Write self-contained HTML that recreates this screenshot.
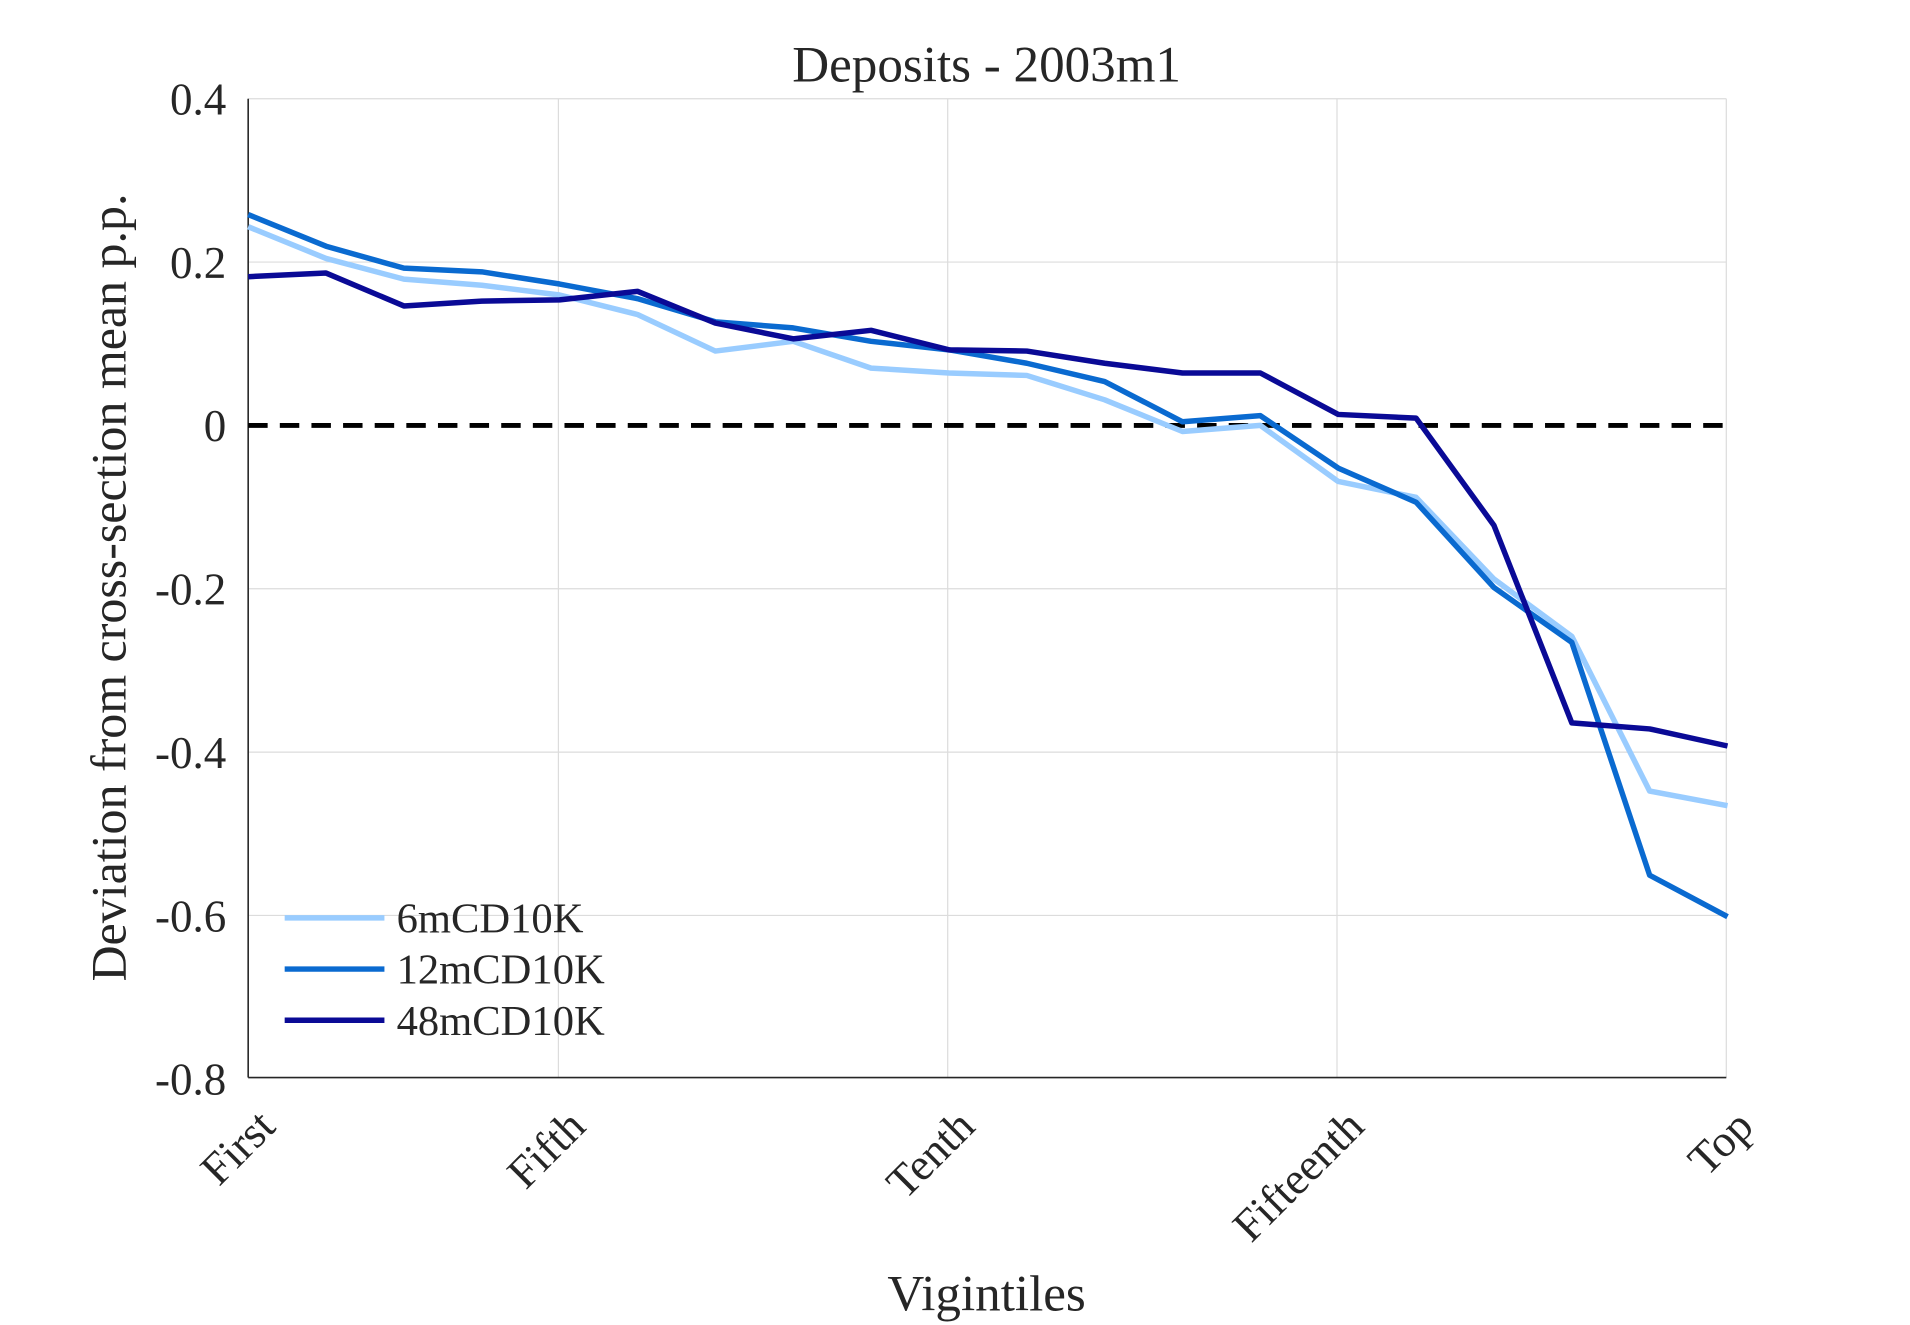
<!DOCTYPE html>
<html><head><style>body{margin:0;background:#fff}svg{display:block}</style></head><body>
<svg width="1910" height="1325" viewBox="0 0 1570 1087" preserveAspectRatio="none" xmlns="http://www.w3.org/2000/svg" font-family="Liberation Serif, serif" fill="#262626">
<g stroke="#dcdcdc" stroke-width="1">
<line x1="459" y1="81" x2="459" y2="884"/><line x1="779" y1="81" x2="779" y2="884"/><line x1="1099" y1="81" x2="1099" y2="884"/><line x1="1419" y1="81" x2="1419" y2="884"/>
<line x1="204" y1="81" x2="1419" y2="81"/><line x1="204" y1="215" x2="1419" y2="215"/><line x1="204" y1="483" x2="1419" y2="483"/><line x1="204" y1="617" x2="1419" y2="617"/><line x1="204" y1="751" x2="1419" y2="751"/>
</g>
<g stroke="#262626" stroke-width="1.3"><line x1="204" y1="81" x2="204" y2="884"/><line x1="204" y1="884" x2="1419" y2="884"/></g>
<line x1="204" y1="349" x2="1419" y2="349" stroke="#000" stroke-width="4" stroke-dasharray="16,10"/>
<g fill="none" stroke-width="4.5" stroke-linejoin="round">
<polyline stroke="#99ccff" points="204,186 268,212 332,229 396,234 460,242 524,258 588,288 652,280 716,302 780,306 844,308 908,328 972,354 1036,349 1100,395 1164,408 1228,475 1292,522 1356,649 1420,661"/>
<polyline stroke="#0a6ad0" points="204,176 268,202 332,220 396,223 460,233 524,245 588,264 652,269 716,280 780,287 844,298 908,313 972,346 1036,341 1100,384 1164,412 1228,482 1292,527 1356,718 1420,752"/>
<polyline stroke="#0a0a96" points="204,227 268,224 332,251 396,247 460,246 524,239 588,265 652,278 716,271 780,287 844,288 908,298 972,306 1036,306 1100,340 1164,343 1228,431 1292,593 1356,598 1420,612"/>
<line x1="234" y1="753" x2="316" y2="753" stroke="#99ccff"/>
<line x1="234" y1="795" x2="316" y2="795" stroke="#0a6ad0"/>
<line x1="234" y1="837" x2="316" y2="837" stroke="#0a0a96"/>
</g>
<g font-size="35">
<text x="326" y="765">6mCD10K</text><text x="326" y="807">12mCD10K</text><text x="326" y="849">48mCD10K</text>
</g>
<g font-size="37" text-anchor="end">
<text x="186" y="94">0.4</text><text x="186" y="228">0.2</text><text x="186" y="362">0</text><text x="186" y="496">-0.2</text><text x="186" y="630">-0.4</text><text x="186" y="764">-0.6</text><text x="186" y="898">-0.8</text>
</g>
<g font-size="37" text-anchor="end">
<text transform="translate(228,926) rotate(-45)">First</text>
<text transform="translate(483,926) rotate(-45)">Fifth</text>
<text transform="translate(803,926) rotate(-45)">Tenth</text>
<text transform="translate(1123,926) rotate(-45)">Fifteenth</text>
<text transform="translate(1443,926) rotate(-45)">Top</text>
</g>
<text x="811" y="67" font-size="42" text-anchor="middle">Deposits - 2003m1</text>
<text x="811" y="1075" font-size="42" text-anchor="middle">Vigintiles</text>
<text transform="translate(103,482) rotate(-90)" font-size="41" text-anchor="middle">Deviation from cross-section mean p.p.</text>
</svg>
</body></html>
